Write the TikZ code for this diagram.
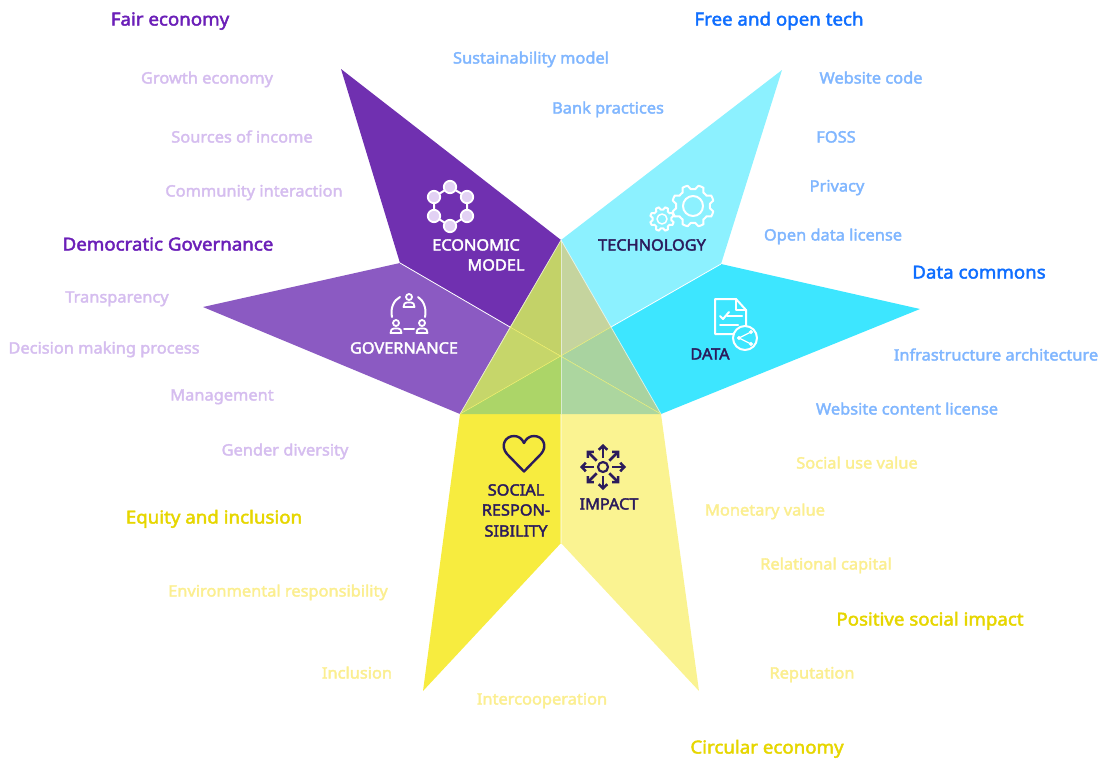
\documentclass[tikz,border=0pt]{standalone}
\usepackage{fontspec}
\setmainfont{Noto Sans}
\newfontfamily\lblfont[FakeBold=2.4,FakeStretch=1.045]{Noto Sans}
\usetikzlibrary{arrows.meta,calc}
\definecolor{pEcon}{HTML}{7030B0}
\definecolor{pGov}{HTML}{8B5AC2}
\definecolor{cTech}{HTML}{8CF1FF}
\definecolor{cData}{HTML}{3DE6FF}
\definecolor{ySoc}{HTML}{F7EC3F}
\definecolor{yImp}{HTML}{FAF391}
\definecolor{inkD}{HTML}{2B1B5C}
\definecolor{hPur}{HTML}{6B1FB8}
\definecolor{lPur}{HTML}{D5BDEF}
\definecolor{hBlu}{HTML}{0F6EFF}
\definecolor{lBlu}{HTML}{80B6FF}
\definecolor{hYel}{HTML}{E6D600}
\definecolor{lYel}{HTML}{FBEE90}
\tikzset{
  seam/.style={draw=white,line width=0.8pt},
  headlbl/.style={font=\lblfont\fontsize{17.9}{20}\selectfont,inner sep=0pt,anchor=base,yshift=-6.5pt},
  itemlbl/.style={font=\lblfont\fontsize{15.7}{18}\selectfont,inner sep=0pt,anchor=base,yshift=-5.5pt},
  caplbl/.style={font=\lblfont\fontsize{15.6}{20}\selectfont,inner sep=0pt,anchor=base,yshift=-5.5pt},
  iconw/.style={draw=white,line width=2pt,line join=round,line cap=round},
  icond/.style={draw=inkD,line width=2.4pt,line join=round,line cap=round},
}
\newcommand{\gearshape}[4]{% cx cy outer depth
  \draw[iconw] plot[samples at={0,7.5,...,352.5},variable=\a]
    ({#1+(#3-(#4)*(1-mod(floor(\a/22.5+.5),2)))*cos(\a)},{#2+(#3-(#4)*(1-mod(floor(\a/22.5+.5),2)))*sin(\a)}) -- cycle;}
\newcommand{\personicon}[2]{% x y
  \draw[iconw,line width=1.8pt] (#1,#2-3) circle (3);
  \draw[iconw,line width=1.8pt] (#1-5.5,#2+7) -- (#1-4.5,#2+3.5) .. controls (#1-3,#2+2) and (#1+3,#2+2) .. (#1+4.5,#2+3.5) -- (#1+5.5,#2+7) -- cycle;}
\begin{document}
\begin{tikzpicture}[x=1pt,y=-1pt]
\useasboundingbox (0,0) rectangle (1107,758);
\coordinate (C) at (561,356);
\coordinate (T) at (561,240);
\coordinate (L) at (460,414);
\coordinate (R) at (661,414);
\coordinate (B) at (561,414);
\coordinate (ML) at (510,327);
\coordinate (MR) at (611,327);
\coordinate (gE) at (400,263);
\coordinate (tD) at (721,264);
\coordinate (sI) at (561,543);
% arms
\path[fill=pEcon] (341,69) -- (T) -- (ML) -- (gE) -- cycle;
\path[fill=pGov] (203,307) -- (gE) -- (ML) -- (L) -- cycle;
\path[fill=cTech] (782,70) -- (T) -- (MR) -- (tD) -- cycle;
\path[fill=cData] (920,309) -- (tD) -- (MR) -- (R) -- cycle;
\path[fill=ySoc] (L) -- (B) -- (sI) -- (423,691) -- cycle;
\path[fill=yImp] (B) -- (R) -- (699,691) -- (sI) -- cycle;
\draw[seam] (gE) -- (ML) (tD) -- (MR) (B) -- (sI);
% central triangle
\path[fill={rgb,255:red,195;green,210;blue,104}] (T) -- (ML) -- (C) -- cycle;
\path[fill={rgb,255:red,197;green,212;blue,158}] (T) -- (MR) -- (C) -- cycle;
\path[fill={rgb,255:red,169;green,211;blue,160}] (MR) -- (R) -- (C) -- cycle;
\path[fill={rgb,255:red,172;green,214;blue,159}] (R) -- (B) -- (C) -- cycle;
\path[fill={rgb,255:red,172;green,213;blue,104}] (L) -- (B) -- (C) -- cycle;
\path[fill={rgb,255:red,198;green,214;blue,106}] (L) -- (ML) -- (C) -- cycle;
\draw[white,line width=.8pt,opacity=.6] (T) -- (L) (T) -- (R);
\draw[white,line width=.8pt,opacity=.55] (T) -- (B);
\draw[yellow!60!white,line width=.7pt,opacity=.6] (ML) -- (R) (MR) -- (L);
% captions
\node[caplbl,text=white] (capEcon) at (476,245) {ECONOMIC};
\node[caplbl,text=white] (capEcon2) at (496,265) {MODEL};
\node[caplbl,text=white] (capGov) at (404,348) {GOVERNANCE};
\node[caplbl,text=inkD] (capTech) at (652,245) {TECHNOLOGY};
\node[caplbl,text=inkD] (capData) at (710,354) {DATA};
\node[caplbl,text=inkD] (capSoc) at (516,490) {SOCIAL};
\node[caplbl,text=inkD] (capSoc2) at (516,510) {RESPON-};
\node[caplbl,text=inkD] (capSoc3) at (516,531) {SIBILITY};
\node[caplbl,text=inkD] (capImp) at (609,504) {IMPACT};
% economic icon
\draw[iconw] (450,187) -- (467,197) -- (467,216) -- (450,226) -- (434,216) -- (434,197) -- cycle;
\foreach \p in {(450,187),(467,197),(467,216),(450,226),(434,216),(434,197)}
  \filldraw[draw=white,line width=1.8pt,fill=lPur!70!white] \p circle (6.2);
% governance icon
\draw[iconw] (392,317) .. controls (390,308) and (394,300) .. (400,297);
\draw[iconw] (425,317) .. controls (427,308) and (423,300) .. (418,297);
\draw[iconw] (404,329) -- (414,329);
\personicon{409}{300}
\personicon{396}{326}
\personicon{422}{326}
% gears
\gearshape{693}{206}{21}{4}
\draw[iconw] (693,206) circle (10);
\gearshape{662}{219}{12}{2.6}
\draw[iconw,line width=1.5pt] (662,219) circle (5);
% data icon
\draw[iconw] (734,334) -- (715,334) -- (715,299) -- (736,299) -- (746,310) -- (746,326);
\draw[iconw] (736,299) -- (736,310) -- (746,310);
\draw[iconw] (720,316) -- (723,319) -- (729,312);
\draw[iconw] (727,316) -- (742,316);
\draw[iconw] (720,325) -- (738,325);
\draw[iconw] (745,338) circle (12);
\draw[iconw,line width=1.2pt] (751,332) -- (739,338) -- (751,344);
\foreach \p in {(751,332),(739,338),(751,344)}
  \filldraw[draw=white,fill=white] \p circle (1.8);
% heart
\draw[icond] (524,471.5) -- (507,454) .. controls (500,446) and (505,436) .. (514,436) .. controls (519,436) and (522,439) .. (524,443) .. controls (526,439) and (529,436) .. (534,436) .. controls (543,436) and (548,446) .. (541,454) -- cycle;
% impact
\draw[icond,line width=2.2pt] (603,467) circle (5);
\foreach \a in {0,45,...,315}
  \draw[draw=inkD,line width=2.6pt,-{Straight Barb[length=4pt,width=8.5pt]}] ($(603,467)+(\a:9)$) -- ($(603,467)+(\a:23)$);
% headings
\node[headlbl,text=hPur] (h1) at (170,19) {Fair economy};
\node[headlbl,text=hPur] (h2) at (168,244) {Democratic Governance};
\node[headlbl,text=hBlu] (h3) at (779,19) {Free and open tech};
\node[headlbl,text=hBlu] (h4) at (979,272) {Data commons};
\node[headlbl,text=hYel] (h5) at (214,517) {Equity and inclusion};
\node[headlbl,text=hYel] (h6) at (930,619) {Positive social impact};
\node[headlbl,text=hYel] (h7) at (767,747) {Circular economy};
% items
\node[itemlbl,text=lPur] (i1) at (207,78) {Growth economy};
\node[itemlbl,text=lPur] (i2) at (242,137) {Sources of income};
\node[itemlbl,text=lPur] (i3) at (254,191) {Community interaction};
\node[itemlbl,text=lPur] (i4) at (117,297) {Transparency};
\node[itemlbl,text=lPur] (i5) at (104,348) {Decision making process};
\node[itemlbl,text=lPur] (i6) at (222,395) {Management};
\node[itemlbl,text=lPur] (i7) at (285,450) {Gender diversity};
\node[itemlbl,text=lBlu] (i8) at (531,58) {Sustainability model};
\node[itemlbl,text=lBlu] (i9) at (608,108) {Bank practices};
\node[itemlbl,text=lBlu] (i10) at (871,78) {Website code};
\node[itemlbl,text=lBlu] (i11) at (836,137) {FOSS};
\node[itemlbl,text=lBlu] (i12) at (837,186) {Privacy};
\node[itemlbl,text=lBlu] (i13) at (833,235) {Open data license};
\node[itemlbl,text=lBlu] (i14) at (996,355) {Infrastructure architecture};
\node[itemlbl,text=lBlu] (i15) at (907,409) {Website content license};
\node[itemlbl,text=lYel] (i16) at (857,463) {Social use value};
\node[itemlbl,text=lYel] (i17) at (765,510) {Monetary value};
\node[itemlbl,text=lYel] (i18) at (826,564) {Relational capital};
\node[itemlbl,text=lYel] (i19) at (812,673) {Reputation};
\node[itemlbl,text=lYel] (i20) at (542,699) {Intercooperation};
\node[itemlbl,text=lYel] (i21) at (357,673) {Inclusion};
\node[itemlbl,text=lYel] (i22) at (278,591) {Environmental responsibility};
\end{tikzpicture}
\end{document}
